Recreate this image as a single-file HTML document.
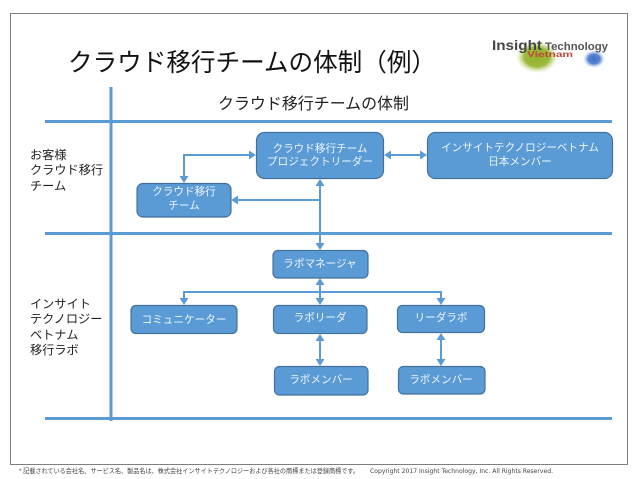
<!DOCTYPE html>
<html lang="ja">
<head>
<meta charset="utf-8">
<style>
html,body{margin:0;padding:0;background:#fff;width:638px;height:479px;overflow:hidden}
svg{display:block}
text{font-family:"Liberation Sans","Noto Sans CJK JP",sans-serif}
.b{fill:#5b9bd5;stroke:#41719c;stroke-width:1.2}
.w{fill:#fff;font-size:10.6px;text-anchor:middle;opacity:.9}
.a{fill:#5b9bd5}
.k{fill:#222;font-size:12.200px}
</style>
</head>
<body>
<svg width="638" height="479" viewBox="0 0 638 479" xmlns="http://www.w3.org/2000/svg">
<defs>
<radialGradient id="g1"><stop offset="0" stop-color="#8fb02c"/><stop offset=".6" stop-color="#9cba3c"/><stop offset="1" stop-color="#cddc9a" stop-opacity="0"/></radialGradient>
<radialGradient id="g2"><stop offset="0" stop-color="#3f6fc4"/><stop offset=".55" stop-color="#5b86d0"/><stop offset="1" stop-color="#b9cdf0" stop-opacity="0"/></radialGradient>
</defs>
<rect x="10.5" y="13.5" width="617" height="451" fill="#fff" stroke="#7f7f7f" stroke-width="1"/>

<ellipse cx="537" cy="57" rx="21" ry="16" fill="url(#g1)"/>
<ellipse cx="594" cy="59" rx="11" ry="9" fill="url(#g2)"/>
<text x="492" y="50" font-size="14" font-weight="700" fill="#444" textLength="50" lengthAdjust="spacingAndGlyphs">Insight</text>
<text x="545" y="50" font-size="11" font-weight="700" fill="#555" textLength="63" lengthAdjust="spacingAndGlyphs">Technology</text>
<text x="527" y="57" font-size="8" font-weight="700" fill="#c0483a" textLength="46" lengthAdjust="spacingAndGlyphs">Vietnam</text>

<text x="68" y="71" font-size="25" fill="#111" textLength="368" lengthAdjust="spacingAndGlyphs">クラウド移行チームの体制（例）</text>
<text x="218" y="109" font-size="16" fill="#222" textLength="191" lengthAdjust="spacingAndGlyphs">クラウド移行チームの体制</text>

<g fill="#5b9bd5" stroke="none">
<rect x="45" y="120" width="567" height="3"/>
<rect x="45" y="232" width="567" height="3"/>
<rect x="45" y="417" width="567" height="3"/>
<rect x="109.500" y="87" width="3" height="334"/>
</g>

<text class="k" x="30" y="159">お客様</text>
<text class="k" x="30" y="174">クラウド移行</text>
<text class="k" x="30" y="190">チーム</text>
<text class="k" x="30" y="308">インサイト</text>
<text class="k" x="30" y="323">テクノロジー</text>
<text class="k" x="30" y="339">ベトナム</text>
<text class="k" x="30" y="354">移行ラボ</text>

<g fill="none" stroke="#5b9bd5" stroke-width="2">
<path d="M184 178V155H252"/>
<path d="M320 184V245"/>
<path d="M236 200H320"/>
<path d="M389 155H422"/>
<path d="M320 283V300"/>
<path d="M184 300V292H441V300"/>
<path d="M320 338V361"/>
<path d="M441 337V361"/>
</g>
<g class="a" stroke="none">
<path d="M184 183l-4.500-7h9z"/>
<path d="M256 155l-7-4.500v9z"/>
<path d="M320 179l-4.500 7h9z"/>
<path d="M320 250l-4.500-7h9z"/>
<path d="M231 200l7-4.500v9z"/>
<path d="M384 155l7-4.500v9z"/>
<path d="M427 155l-7-4.500v9z"/>
<path d="M320 278l-4.500 7h9z"/>
<path d="M184 305l-4.500-7h9z"/>
<path d="M320 305l-4.500-7h9z"/>
<path d="M441 305l-4.500-7h9z"/>
<path d="M320 334l-4.500 7h9z"/>
<path d="M320 366l-4.500-7h9z"/>
<path d="M441 333l-4.500 7h9z"/>
<path d="M441 366l-4.500-7h9z"/>
</g>

<rect class="b" x="256.500" y="132.500" width="127" height="46" rx="8"/>
<rect class="b" x="427.500" y="132.500" width="185" height="46" rx="8"/>
<rect class="b" x="137" y="183.500" width="94" height="33.500" rx="6"/>
<rect class="b" x="273" y="250.500" width="95" height="27.500" rx="5"/>
<rect class="b" x="131" y="305.500" width="106" height="28" rx="5"/>
<rect class="b" x="273.500" y="305.500" width="93.500" height="28" rx="5"/>
<rect class="b" x="397.500" y="305.500" width="87" height="27" rx="5"/>
<rect class="b" x="274.500" y="366.500" width="93.500" height="28.500" rx="5"/>
<rect class="b" x="398.500" y="366.500" width="86.500" height="27.500" rx="5"/>

<text class="w" x="320" y="152">クラウド移行チーム</text>
<text class="w" x="320" y="165">プロジェクトリーダー</text>
<text class="w" x="520" y="151">インサイトテクノロジーベトナム</text>
<text class="w" x="520" y="165">日本メンバー</text>
<text class="w" x="184" y="195">クラウド移行</text>
<text class="w" x="184" y="209">チーム</text>
<text class="w" x="320" y="267">ラボマネージャ</text>
<text class="w" x="184" y="323">コミュニケーター</text>
<text class="w" x="320" y="321">ラボリーダ</text>
<text class="w" x="441" y="321">リーダラボ</text>
<text class="w" x="321" y="383">ラボメンバー</text>
<text class="w" x="441" y="383">ラボメンバー</text>

<text x="19" y="473" font-size="6.5" fill="#444" textLength="340" lengthAdjust="spacingAndGlyphs">* 記載されている会社名、サービス名、製品名は、株式会社インサイトテクノロジーおよび各社の商標または登録商標です。</text>
<text x="370" y="473" font-size="6.5" fill="#444" style="font-family:'DejaVu Sans',sans-serif" textLength="183" lengthAdjust="spacingAndGlyphs">Copyright 2017 Insight Technology, Inc. All Rights Reserved.</text>
</svg>
</body>
</html>
